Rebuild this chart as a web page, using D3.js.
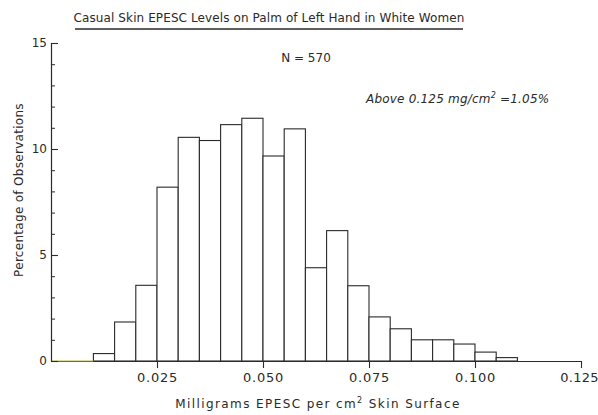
<!DOCTYPE html>
<html><head><meta charset="utf-8">
<script src="https://cdn.jsdelivr.net/npm/d3@7"></script>
<style>
body{margin:0;background:#fff;}
text{font-family:"DejaVu Sans","Liberation Sans",sans-serif;fill:#2a2a2a;}
</style></head>
<body><svg id="chart" width="598" height="415"></svg>
<script>
// Bin lower edges (mg/cm²), bin width 0.005
const binStarts = [0.010,0.015,0.020,0.025,0.030,0.035,0.040,0.045,0.050,0.055,
                   0.060,0.065,0.070,0.075,0.080,0.085,0.090,0.095,0.100,0.105];
const binWidth = 0.005;
const percents = [0.35,1.84,3.57,8.2,10.55,10.4,11.15,11.45,9.67,10.95,
                  4.40,6.15,3.55,2.08,1.52,1.0,1.0,0.8,0.42,0.16];
const xTicks = [0.025,0.050,0.075,0.100,0.125];
const xTickLabels = ["0.025","0.050","0.075","0.100","0.125"];
const yMajorTicks = [0,5,10,15];
const yMinorTicks = [1,2,3,4,6,7,8,9,11,12,13,14];

const svg = d3.select("#chart");
const x = d3.scaleLinear().domain([0,0.125]).range([51,581]);
const y = d3.scaleLinear().domain([0,15]).range([361,43]);
const ink = "#2a2a2a";

// bars
svg.append("g").selectAll("rect").data(binStarts).join("rect")
  .attr("x", d=>x(d)).attr("width", d=>x(d+binWidth)-x(d))
  .attr("y", (d,i)=>y(percents[i])).attr("height",(d,i)=>y(0)-y(percents[i]))
  .attr("fill","#fff").attr("stroke",ink).attr("stroke-width",1.1);

// x axis
const xAxis = d3.axisBottom(x).tickValues(xTicks)
  .tickFormat((d,i)=>xTickLabels[i]).tickSize(7).tickPadding(5);
const gx = svg.append("g").attr("transform",`translate(0,${y(0)})`).call(xAxis);
gx.select(".domain").attr("d",`M${x(0)},0.5H${x(0.125)}`).attr("stroke",ink).attr("stroke-width",1.2);
gx.selectAll(".tick line").attr("stroke",ink).attr("stroke-width",1.1);
gx.selectAll(".tick text").attr("font-size",13).attr("fill",ink).style("letter-spacing","0.8px");
gx.selectAll(".tick text").filter(d=>d===0.125).attr("dx",-2).style("letter-spacing","0.3px");
// faint yellow scan tint on the empty baseline
svg.append("line").attr("x1",x(0)+1).attr("x2",x(binStarts[0])).attr("y1",y(0)).attr("y2",y(0))
  .attr("stroke","#b9b33a").attr("stroke-width",1.2);

// y axis (ticks pointing inward)
const yAxis = d3.axisLeft(y).tickValues(yMajorTicks).tickSize(-7).tickPadding(4).tickFormat(d3.format("d"));
const gy = svg.append("g").attr("transform",`translate(${x(0)},0)`).call(yAxis);
gy.select(".domain").attr("d",`M0.5,${y(15)}V${y(0)}`).attr("stroke",ink).attr("stroke-width",1.2);
gy.selectAll(".tick line").attr("stroke",ink).attr("stroke-width",1.1);
gy.selectAll(".tick text").attr("font-size",12).attr("fill",ink);
const yAxisMinor = d3.axisLeft(y).tickValues(yMinorTicks).tickSize(-4).tickFormat("");
const gym = svg.append("g").attr("transform",`translate(${x(0)},0)`).call(yAxisMinor);
gym.select(".domain").remove();
gym.selectAll(".tick line").attr("stroke",ink).attr("stroke-width",1);

// title
svg.append("text").attr("x",269).attr("y",22).attr("text-anchor","middle")
  .attr("font-size",12).style("letter-spacing","0.1px")
  .text("Casual Skin EPESC Levels on Palm of Left Hand in White Women");
svg.append("line").attr("x1",75).attr("x2",463).attr("y1",29).attr("y2",29)
  .attr("stroke",ink).attr("stroke-width",1.3);

svg.append("text").attr("x",306).attr("y",62).attr("text-anchor","middle")
  .attr("font-size",12).text("N = 570");

const ann = svg.append("text").attr("x",366).attr("y",103).attr("font-size",12)
  .attr("font-style","italic").style("letter-spacing","0.2px");
ann.append("tspan").text("Above 0.125 mg/cm");
ann.append("tspan").attr("dy",-5).attr("font-size",8).text("2");
ann.append("tspan").attr("dy",5).text(" =1.05%");

// axis titles
svg.append("text").attr("transform",`translate(23,${(y(0)+y(15))/2 - 12}) rotate(-90)`)
  .attr("text-anchor","middle").attr("font-size",12).style("letter-spacing","0.3px")
  .text("Percentage of Observations");
const xt = svg.append("text").attr("x",318).attr("y",408).attr("text-anchor","middle")
  .attr("font-size",12).style("letter-spacing","1.4px");
xt.append("tspan").text("Milligrams EPESC per cm");
xt.append("tspan").attr("dy",-5).attr("font-size",8).text("2");
xt.append("tspan").attr("dy",5).text(" Skin Surface");
</script></body></html>
